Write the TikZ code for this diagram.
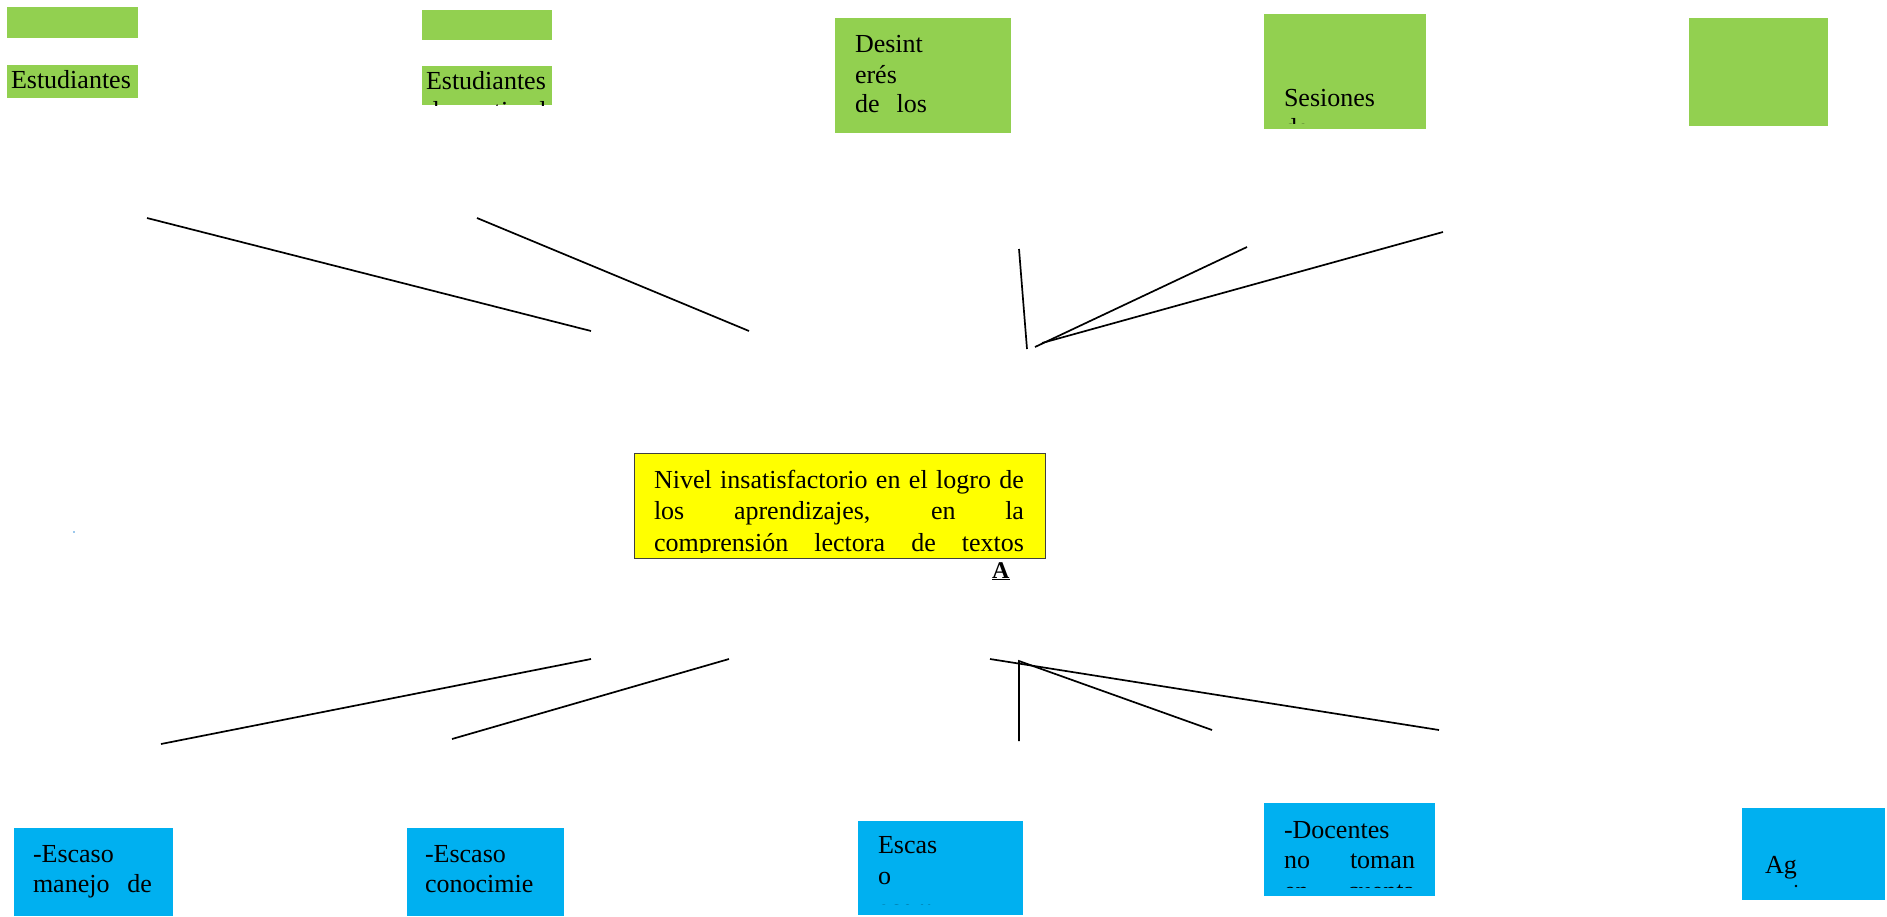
\documentclass[tikz,border=0pt]{standalone}
\usepackage{fontspec}
\setmainfont{Liberation Serif}
\definecolor{gfill}{HTML}{92D050}
\definecolor{bfill}{HTML}{00B0F0}
\definecolor{yfill}{HTML}{FFFF00}
\definecolor{dotblue}{HTML}{9CC8EC}
\tikzset{
  gbox/.style={fill=gfill, draw=none, anchor=north west, inner sep=0pt, outer sep=0pt},
  bbox/.style={fill=bfill, draw=none, anchor=north west, inner sep=0pt, outer sep=0pt},
  ybox/.style={fill=yfill, draw=black!75, line width=1pt, anchor=north west, inner sep=0pt, outer sep=0pt},
  txt/.style={anchor=base west, inner sep=0pt, outer sep=0pt, font=\fontsize{26}{30}\selectfont},
  conn/.style={line width=1.7pt, black},
}
\begin{document}
\begin{tikzpicture}[x=1pt,y=-1pt]
\useasboundingbox (0,0) rectangle (1887,916);

% ---------- top green boxes ----------
\node[gbox, minimum width=131pt, minimum height=31pt] (g1a) at (7,7) {};
\node[gbox, minimum width=131pt, minimum height=33pt] (g1b) at (7,65) {};
\begin{scope}
  \clip (g1b.south west) rectangle (g1b.north east);
  \node[txt] (t1b) at (11,88) {Estudiantes};
\end{scope}

\node[gbox, minimum width=130pt, minimum height=30pt] (g2a) at (422,10) {};
\node[gbox, minimum width=130pt, minimum height=39pt] (g2b) at (422,66) {};
\begin{scope}
  \clip (g2b.south west) rectangle (g2b.north east);
  \node[txt] (t2b) at (426,89) {Estudiantes};
  \node[txt] (t2c) at (426,119) {\makebox[122pt][s]{desmotivados}};
\end{scope}

\node[gbox, minimum width=176pt, minimum height=115pt] (g3) at (835,18) {};
\begin{scope}
  \clip (835,18) rectangle (1011,120);
  \node[txt] (t3a) at (855,52) {Desint};
  \node[txt] (t3b) at (855,83) {erés};
  \node[txt] (t3c) at (855,112) {\makebox[72pt][s]{de los}};
\end{scope}

\node[gbox, minimum width=162pt, minimum height=115pt] (g4) at (1264,14) {};
\begin{scope}
  \clip (1264,14) rectangle (1426,123);
  \node[txt] (t4a) at (1284,106) {Sesiones};
  \node[txt] (t4b) at (1284,136) {de};
\end{scope}

\node[gbox, minimum width=139pt, minimum height=108pt] (g5) at (1689,18) {};

% ---------- central problem ----------
\node[ybox, minimum width=411pt, minimum height=105pt] (prob) at (634,453) {};
\begin{scope}
  \clip (635,454) rectangle (1044,552);
  \node[txt] (pa) at (654,488) {\makebox[370pt][s]{Nivel insatisfactorio en el logro de}};
  \node[txt] (pb) at (654,519) {\makebox[370pt][s]{los aprendizajes, en la}};
  \node[txt] (pc) at (654,551) {\makebox[370pt][s]{comprensión lectora de textos}};
\end{scope}
\node[anchor=base west, inner sep=0pt, font=\fontsize{24}{28}\selectfont\bfseries] (lblA) at (992,578) {\underline{A}};

\fill[dotblue] (73,531) rectangle (75,533);

% ---------- bottom blue boxes ----------
\node[bbox, minimum width=159pt, minimum height=88pt] (b1) at (14,828) {};
\begin{scope}
  \clip (b1.south west) rectangle (b1.north east);
  \node[txt] (s1a) at (33,862) {-Escaso};
  \node[txt] (s1b) at (33,892) {\makebox[119pt][s]{manejo de}};
\end{scope}

\node[bbox, minimum width=157pt, minimum height=88pt] (b2) at (407,828) {};
\begin{scope}
  \clip (b2.south west) rectangle (b2.north east);
  \node[txt] (s2a) at (425,862) {-Escaso};
  \node[txt] (s2b) at (425,892) {conocimie};
\end{scope}

\node[bbox, minimum width=165pt, minimum height=94pt] (b3) at (858,821) {};
\begin{scope}
  \clip (858,821) rectangle (1023,904);
  \node[txt] (s3a) at (878,853) {Escas};
  \node[txt] (s3b) at (878,884) {o};
  \node[txt] (s3c) at (878,917) {acom};
\end{scope}

\node[bbox, minimum width=171pt, minimum height=93pt] (b4) at (1264,803) {};
\begin{scope}
  \clip (1264,803) rectangle (1435,887);
  \node[txt] (s4a) at (1284,838) {-Docentes};
  \node[txt] (s4b) at (1284,868) {\makebox[131pt][s]{no toman}};
  \node[txt] (s4c) at (1284,899) {\makebox[131pt][s]{en cuenta}};
\end{scope}

\node[bbox, minimum width=143pt, minimum height=92pt] (b5) at (1742,808) {};
\node[txt] (s5a) at (1765,873) {Ag};
\fill (1796,886) circle (1.3pt);

% ---------- connectors (top) ----------
\coordinate (u1a) at (147,218); \coordinate (u1b) at (591,331);
\coordinate (u2a) at (477,218); \coordinate (u2b) at (749,331);
\coordinate (u3a) at (1019,249); \coordinate (u3b) at (1027,349);
\coordinate (u4a) at (1247,247); \coordinate (u4b) at (1035,347);
\coordinate (u5a) at (1443,232); \coordinate (u5b) at (1042,343);
\draw[conn] (u1a) -- (u1b);
\draw[conn] (u2a) -- (u2b);
\draw[conn] (u3a) -- (u3b);
\draw[conn] (u4a) -- (u4b);
\draw[conn] (u5a) -- (u5b);

% ---------- connectors (bottom) ----------
\coordinate (d1a) at (161,744); \coordinate (d1b) at (591,659);
\coordinate (d2a) at (452,739); \coordinate (d2b) at (729,659);
\coordinate (d3a) at (1019,741); \coordinate (d3b) at (1019,661);
\coordinate (d4a) at (1212,730);
\coordinate (d5a) at (1439,730); \coordinate (d5b) at (990,659);
\draw[conn] (d1a) -- (d1b);
\draw[conn] (d2a) -- (d2b);
\draw[conn] (d3a) -- (d3b) -- (d4a);
\draw[conn] (d5a) -- (d5b);
\end{tikzpicture}
\end{document}
